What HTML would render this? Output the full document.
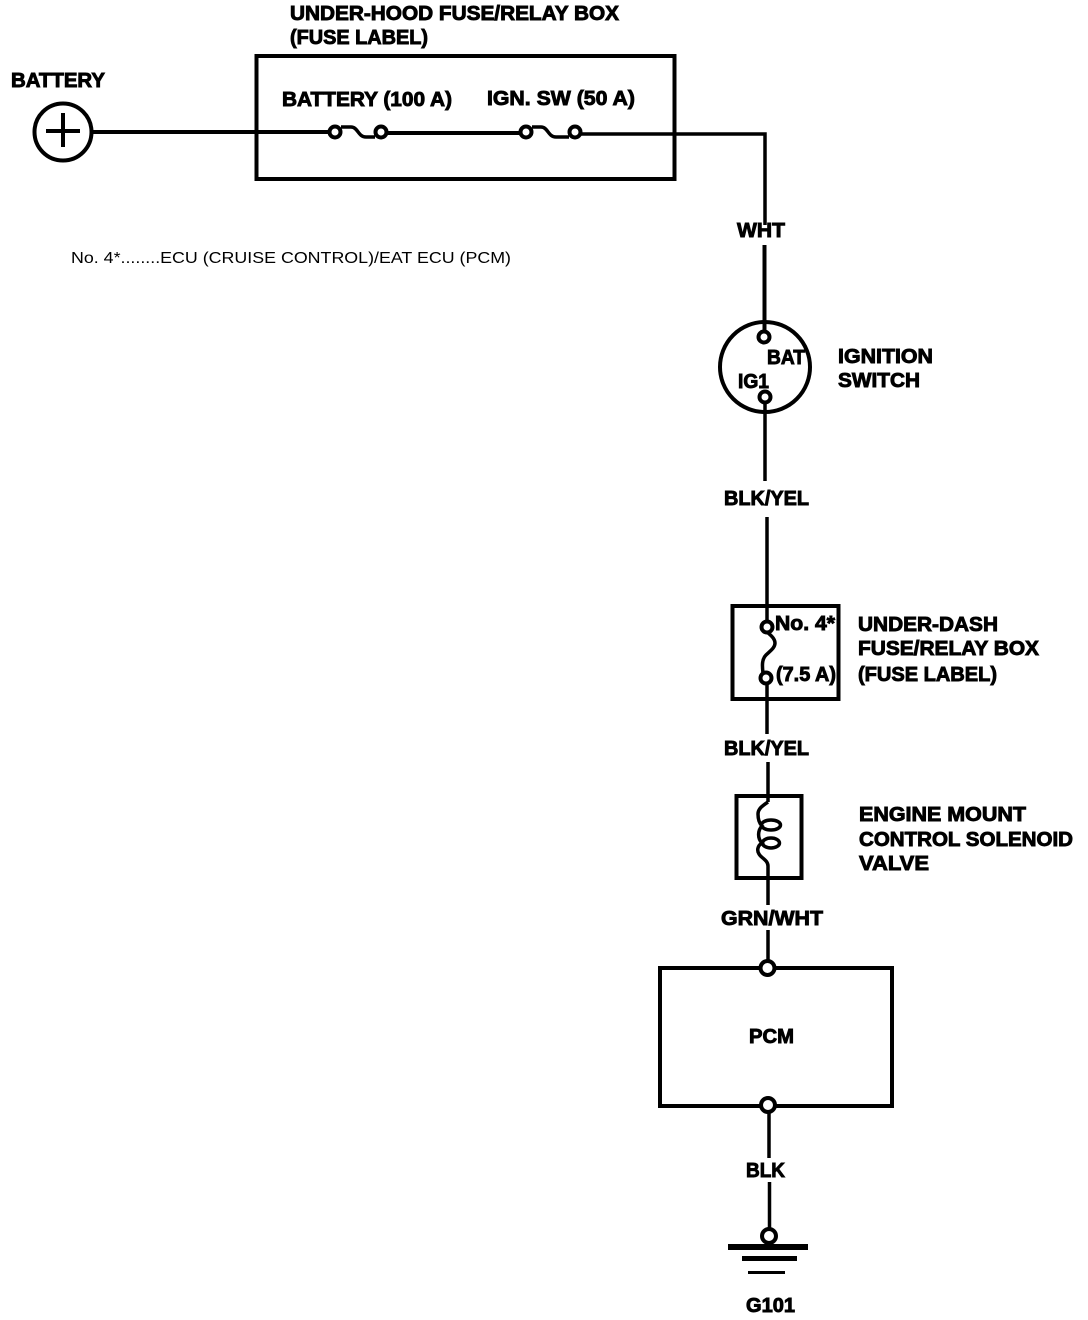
<!DOCTYPE html>
<html>
<head>
<meta charset="utf-8">
<style>
html,body{margin:0;padding:0;background:#fff;}
svg{display:block;}
text{font-family:"Liberation Sans",sans-serif;font-weight:700;font-size:20px;fill:#000;stroke:#000;stroke-width:.9;}
text.n{font-weight:400;font-size:16px;stroke:none;}
.w{fill:none;stroke:#000;stroke-width:4;}
.t{fill:#fff;stroke:#000;stroke-width:4;}
.f{fill:none;stroke:#000;stroke-width:3.5;}
</style>
</head>
<body>
<svg width="1088" height="1320" viewBox="0 0 1088 1320" xmlns="http://www.w3.org/2000/svg">
<!-- Battery -->
<text x="11" y="87" textLength="94" lengthAdjust="spacingAndGlyphs">BATTERY</text>
<circle class="w" cx="63" cy="132" r="28.5"/>
<path class="w" d="M46 131H80M63 113V147"/>
<path class="w" d="M93 132H330"/>
<!-- Under-hood box -->
<text x="290" y="20" textLength="329" lengthAdjust="spacingAndGlyphs">UNDER-HOOD FUSE/RELAY BOX</text>
<text x="290" y="44" textLength="138" lengthAdjust="spacingAndGlyphs">(FUSE LABEL)</text>
<rect class="w" x="256.5" y="56" width="418" height="123"/>
<text x="282" y="106" textLength="170" lengthAdjust="spacingAndGlyphs">BATTERY (100 A)</text>
<text x="487" y="105" textLength="148" lengthAdjust="spacingAndGlyphs">IGN. SW (50 A)</text>
<path class="w" d="M387 133H520"/>
<path class="f" d="M581 134H765V225"/>
<path class="f" d="M341 127H351C358 127 358 137 366 137H375"/>
<path class="f" d="M532 127H541C548 127 548 137 556 137H569"/>
<circle class="t" cx="335" cy="132" r="5.5"/>
<circle class="t" cx="381" cy="132" r="5.5"/>
<circle class="t" cx="526" cy="132" r="5.5"/>
<circle class="t" cx="575" cy="132" r="5.5"/>
<!-- Note -->
<text class="n" x="71" y="263" textLength="440" lengthAdjust="spacingAndGlyphs">No. 4*........ECU (CRUISE CONTROL)/EAT ECU (PCM)</text>
<!-- WHT -->
<text x="737" y="237" textLength="48" lengthAdjust="spacingAndGlyphs">WHT</text>
<path class="w" d="M764.5 245V331"/>
<!-- Ignition switch -->
<circle class="w" cx="765" cy="367" r="45"/>
<circle class="t" cx="764" cy="337" r="5.5"/>
<circle class="t" cx="765" cy="397" r="5.5"/>
<text x="767" y="364" textLength="38" lengthAdjust="spacingAndGlyphs">BAT</text>
<text x="738" y="388" textLength="31" lengthAdjust="spacingAndGlyphs">IG1</text>
<text x="838" y="363" textLength="95" lengthAdjust="spacingAndGlyphs">IGNITION</text>
<text x="838" y="387" textLength="82" lengthAdjust="spacingAndGlyphs">SWITCH</text>
<path class="f" d="M765 403V481"/>
<text x="724" y="505" textLength="85" lengthAdjust="spacingAndGlyphs">BLK/YEL</text>
<path class="f" d="M767 517V621"/>
<!-- Under-dash box -->
<rect class="w" x="732.5" y="606" width="106" height="93"/>
<path class="f" d="M768 633C772 636 775 639 775 643C775 648 770 651 766 655C762 659 762 665 763 673"/>
<circle class="t" cx="767" cy="627" r="5.5"/>
<circle class="t" cx="766" cy="678" r="5.5"/>
<text x="775" y="630" textLength="60" lengthAdjust="spacingAndGlyphs">No. 4*</text>
<text x="776" y="681" textLength="60" lengthAdjust="spacingAndGlyphs">(7.5 A)</text>
<text x="858" y="631" textLength="140" lengthAdjust="spacingAndGlyphs">UNDER-DASH</text>
<text x="858" y="655" textLength="181" lengthAdjust="spacingAndGlyphs">FUSE/RELAY BOX</text>
<text x="858" y="681" textLength="139" lengthAdjust="spacingAndGlyphs">(FUSE LABEL)</text>
<path class="f" d="M767 684V734"/>
<text x="724" y="755" textLength="85" lengthAdjust="spacingAndGlyphs">BLK/YEL</text>
<path class="f" d="M768 762V802"/>
<!-- Solenoid -->
<rect class="w" x="736.5" y="796" width="65" height="82"/>
<path class="f" d="M768 802C762 806 758 809 758 814C758 819 759 823 762 826C758 830 757 838 762 843C757 846 757 851 759 854C761 858 768 860 768 866V880"/>
<ellipse class="f" cx="771" cy="825" rx="9.5" ry="5"/>
<ellipse class="f" cx="771" cy="843" rx="8.5" ry="5"/>
<path class="f" d="M768 878V905"/>
<text x="721" y="925" textLength="102" lengthAdjust="spacingAndGlyphs">GRN/WHT</text>
<path class="f" d="M768 930V961"/>
<text x="859" y="821" textLength="167" lengthAdjust="spacingAndGlyphs">ENGINE MOUNT</text>
<text x="859" y="846" textLength="214" lengthAdjust="spacingAndGlyphs">CONTROL SOLENOID</text>
<text x="859" y="870" textLength="70" lengthAdjust="spacingAndGlyphs">VALVE</text>
<!-- PCM -->
<rect class="w" x="660" y="968" width="232" height="138"/>
<circle class="t" cx="767.5" cy="968" r="7"/>
<circle class="t" cx="768" cy="1105" r="7"/>
<text x="749" y="1043" textLength="45" lengthAdjust="spacingAndGlyphs">PCM</text>
<path class="f" d="M769 1112V1158"/>
<text x="746" y="1177" textLength="39" lengthAdjust="spacingAndGlyphs">BLK</text>
<path class="f" d="M769.5 1182V1230"/>
<!-- Ground -->
<circle class="t" cx="769" cy="1236" r="7"/>
<rect x="728" y="1244" width="80" height="6"/>
<rect x="742" y="1256" width="55" height="5"/>
<rect x="748" y="1271" width="37" height="3"/>
<text x="746" y="1312" textLength="49" lengthAdjust="spacingAndGlyphs">G101</text>
</svg>
</body>
</html>
